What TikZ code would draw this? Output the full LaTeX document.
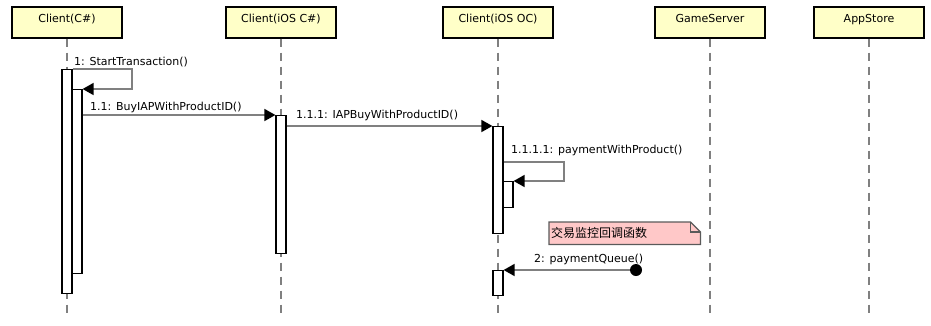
\documentclass[tikz,border=0pt]{standalone}
\usepackage{fontspec}
\setmainfont{DejaVu Sans}
\newfontfamily\cjkfont{Noto Sans CJK SC}
\usetikzlibrary{arrows.meta,calc,backgrounds}
\definecolor{seqhead}{HTML}{FFFFC8}
\definecolor{seqnote}{HTML}{FFC8C8}
\definecolor{seqgrey}{HTML}{808080}
\definecolor{seqedge}{HTML}{5A5A5A}
\tikzset{
  x=1pt, y=-1pt,
  font=\fontsize{11}{13}\selectfont,
  actor/.style={draw=black,line width=1.6pt,fill=seqhead,anchor=north,
                minimum width=110pt,inner xsep=0pt,inner ysep=4pt,
                text height=12pt,text depth=11pt},
  lifeline/.style={draw=seqgrey,line width=2pt,dash pattern=on 8pt off 6pt},
  bar/.style={draw=black,line width=1.2pt,fill=white,anchor=north,
              minimum width=10pt,inner sep=0pt},
  msg/.style={draw=seqgrey,line width=1.6pt,
              -{Triangle[length=11pt,width=12pt,color=black]}},
  msglbl/.style={anchor=west,inner sep=0pt},
  dot/.style={circle,fill=black,inner sep=0pt,minimum size=12pt},
  note/.style={anchor=north west,text width=147pt,align=left,inner xsep=2pt,
               minimum height=22pt,font=\cjkfont\fontsize{12}{14}\selectfont},
}

\begin{document}
\begin{tikzpicture}
  \useasboundingbox (0,0) rectangle (931,325);
  \coordinate (bottom) at (0,318);

  % participants
  \node[actor] (cs)       at (67,6)  {Client(C\#)};
  \node[actor] (ioscs)    at (281,6) {Client(iOS C\#)};
  \node[actor] (iosoc)    at (498,6) {Client(iOS OC)};
  \node[actor] (gs)       at (710,6) {GameServer};
  \node[actor] (appstore) at (869,6) {AppStore};

  % lifelines
  \foreach \p in {cs,ioscs,iosoc,gs,appstore}
    \draw[lifeline] (\p.south) -- (\p.south |- bottom);

  % activation bars
  \node[bar,minimum height=224pt] (csbar)      at (67,69)  {};
  \node[bar,minimum height=184pt] (csinner)    at (77,89)  {};
  \node[bar,minimum height=138pt] (ioscsbar)   at (281,115) {};
  \node[bar,minimum height=107pt] (iosocbar)   at (498,126) {};
  \node[bar,minimum height=26pt]  (iosocinner) at (508,181) {};
  \node[bar,minimum height=25pt]  (iosocback)  at (498,270) {};

  % calls
  \coordinate (loopa) at (132,69);
  \draw[msg] (csbar.north east) -- (loopa) |- (csinner.north east);
  \node[msglbl] (m1) at (74,62) {1: StartTransaction()};

  \draw[msg] (csinner.east |- ioscsbar.north) -- (ioscsbar.north west);
  \node[msglbl] (m11) at (90,107) {1.1: BuyIAPWithProductID()};

  \draw[msg] (ioscsbar.east |- iosocbar.north) -- (iosocbar.north west);
  \node[msglbl] (m111) at (296,115) {1.1.1: IAPBuyWithProductID()};

  \coordinate (loopb) at (564,162);
  \draw[msg] (iosocbar.east |- loopb) -- (loopb) |- (iosocinner.north east);
  \node[msglbl] (m1111) at (511,150) {1.1.1.1: paymentWithProduct()};

  % callback note
  \node[note] (cbnote) at (549,222) {交易监控回调函数};
  \begin{scope}[on background layer]
    \draw[draw=seqedge,fill=seqnote,line width=1.2pt]
      (cbnote.north west) -- ($(cbnote.north east)+(-10,0)$)
      -- ($(cbnote.north east)+(0,10)$) -- (cbnote.south east)
      -- (cbnote.south west) -- cycle;
  \end{scope}
  \draw[draw=seqedge,line width=1.2pt]
    ($(cbnote.north east)+(-10,0)$) |- ($(cbnote.north east)+(0,10)$);

  % found message
  \node[dot] (queue) at (636,270) {};
  \draw[msg] (queue) -- (iosocback.north east);
  \node[msglbl] (m2) at (534,259) {2: paymentQueue()};
\end{tikzpicture}
\end{document}
